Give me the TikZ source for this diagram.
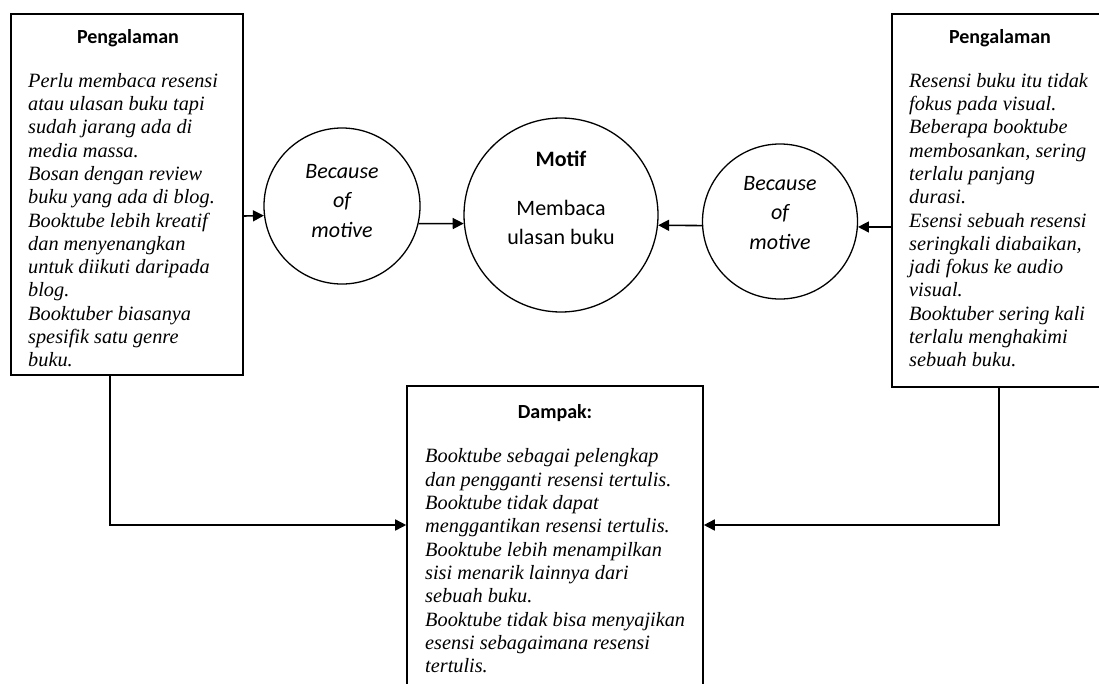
\documentclass[tikz,border=0pt]{standalone}
\usepackage{fontspec}
\setmainfont{Liberation Serif}
\newfontfamily\calib{Carlito}
\usetikzlibrary{arrows.meta}
\begin{document}
\begin{tikzpicture}[x=1pt,y=-1pt,
  boxnode/.style={draw,line width=1.6pt,rectangle,inner sep=0pt},
  circnode/.style={draw,line width=1.3pt,circle,inner sep=0pt},
  bodytxt/.style={anchor=north west,inner sep=0pt,align=left,font=\fontsize{20.3}{23.3}\selectfont\itshape},
  headtxt/.style={anchor=base,inner sep=0pt,font=\calib\bfseries\fontsize{20}{24}\selectfont},
  circtxt/.style={anchor=north,inner sep=0pt,align=center,font=\calib\fontsize{22}{29.5}\selectfont},
  arr/.style={line width=1.6pt,-{Triangle[length=11pt,width=11pt]}}
]
\useasboundingbox (0,0) rectangle (1099,683);
\clip (0,0) rectangle (1099,683);

% boxes
\node[boxnode,minimum width=232pt,minimum height=361pt] (lbox) at (127,194.5) {};
\node[boxnode,minimum width=220pt,minimum height=373pt] (rbox) at (1002,200.5) {};
\node[boxnode,minimum width=296pt,minimum height=320pt] (bbox) at (555,546) {};

% circles
\node[circnode,minimum size=156pt] (lcirc) at (342,206) {};
\node[circnode,minimum size=194pt] (motif) at (561,215) {};
\node[circnode,minimum size=155pt] (rcirc) at (780,221.5) {};

% headings
\node[headtxt] (lhead) at (128,43) {Pengalaman};
\node[headtxt] (rhead) at (1000,43) {Pengalaman};
\node[headtxt] (bhead) at (555,418) {Dampak:};

% body texts
\node[bodytxt] (ltxt) at (28,70.7) {\strut Perlu membaca resensi\\
atau ulasan buku tapi\\
sudah jarang ada di\\
media massa.\\
Bosan dengan review\\
buku yang ada di blog.\\
Booktube lebih kreatif\\
dan menyenangkan\\
untuk diikuti daripada\\
blog.\\
Booktuber biasanya\\
spesifik satu genre\\
buku.};

\node[bodytxt] (rtxt) at (909,70.7) {\strut Resensi buku itu tidak\\
fokus pada visual.\\
Beberapa booktube\\
membosankan, sering\\
terlalu panjang\\
durasi.\\
Esensi sebuah resensi\\
seringkali diabaikan,\\
jadi fokus ke audio\\
visual.\\
Booktuber sering kali\\
terlalu menghakimi\\
sebuah buku.};

\node[bodytxt] (btxt) at (425,446.4) {\strut Booktube sebagai pelengkap\\
dan pengganti resensi tertulis.\\
Booktube tidak dapat\\
menggantikan resensi tertulis.\\
Booktube lebih menampilkan\\
sisi menarik lainnya dari\\
sebuah buku.\\
Booktube tidak bisa menyajikan\\
esensi sebagaimana resensi\\
tertulis.};

% circle texts
\node[circtxt] (lctxt) at (342,157.4) {\strut\itshape Because\\ \itshape of\\ \itshape motive};
\node[circtxt] (mtxt) at (561,145.4) {\strut\bfseries Motif\\[19.5pt] Membaca\\ ulasan buku};
\node[circtxt] (rctxt) at (780,169.4) {\strut\itshape Because\\ \itshape of\\ \itshape motive};

% connectors
\draw[arr] (lbox.east |- 0,216) -- (lcirc.187);
\draw[arr] (lcirc.347) -- (motif.185);
\draw[arr] (rcirc.183) -- (motif.354);
\draw[arr] (rbox.west |- 0,227) -- (rcirc.356);
\draw[arr] (lbox.south -| 110,0) |- (bbox.west |- 0,525);
\draw[arr] (rbox.south -| 999,0) |- (bbox.east |- 0,525);
\end{tikzpicture}
\end{document}
